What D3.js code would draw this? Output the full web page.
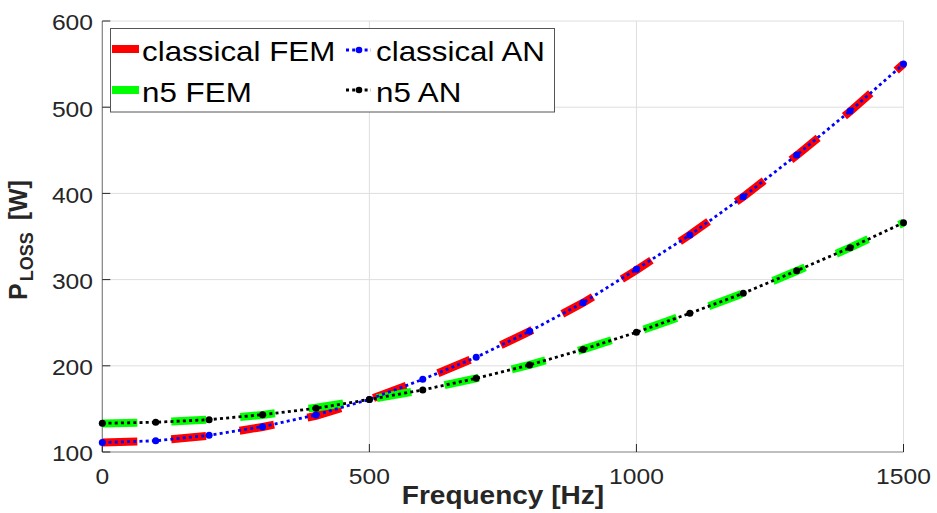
<!DOCTYPE html>
<html><head><meta charset="utf-8">
<script src="https://cdn.jsdelivr.net/npm/d3@7"></script>
<style>body{margin:0;background:#fff}svg{display:block}</style>
</head><body>
<svg id="c" width="937" height="513"></svg>
<script>
const freq = [0,100,200,300,400,500,600,700,800,900,1000,1100,1200,1300,1400,1500];
const classicalFEM = [111,113,119,129,142,161,184,210,240,273,311,352,396,444,495,550];
const n5FEM        = [133,134.5,137.5,143,151.5,161,172,185.5,201,219,239,261,284,310,337,366];
const classicalAN  = [111,113,119.4,129.4,143,161,184.3,209.9,240,273.2,312,351.7,396.2,444.5,495.6,550];
const n5AN         = [133.3,134.5,137.5,143.3,150.7,161,172,185.5,201,219,238.9,260.9,284.1,310.3,337,366];
const xTicks = [0,500,1000,1500];
const yTicks = [100,200,300,400,500,600];
const legendLabels = ["classical FEM","n5 FEM","classical AN","n5 AN"];

const SX = 1.12;
const FONT = "'Liberation Sans', Arial, Helvetica, sans-serif";
const svg = d3.select("#c");
const x = d3.scaleLinear().domain([0,1500]).range([102.3,903.5]);
const y = d3.scaleLinear().domain([100,600]).range([452,21]);

// grid
const g = svg.append("g");
g.selectAll("line.gx").data(xTicks.slice(1)).join("line")
  .attr("x1",d=>x(d)).attr("x2",d=>x(d)).attr("y1",y(100)).attr("y2",y(600))
  .attr("stroke","#dedede").attr("stroke-width",1);
g.selectAll("line.gy").data(yTicks.slice(1)).join("line")
  .attr("y1",d=>y(d)).attr("y2",d=>y(d)).attr("x1",x(0)).attr("x2",x(1500))
  .attr("stroke","#dedede").attr("stroke-width",1);

// axes lines
svg.append("line").attr("x1",x(0)).attr("x2",x(0)).attr("y1",y(100)).attr("y2",y(600)).attr("stroke","#808080").attr("stroke-width",1.2);
svg.append("line").attr("x1",x(0)).attr("x2",x(1500)).attr("y1",y(100)).attr("y2",y(100)).attr("stroke","#808080").attr("stroke-width",1.2);
// ticks (inward)
svg.selectAll("line.tx").data(xTicks).join("line")
  .attr("x1",d=>x(d)).attr("x2",d=>x(d)).attr("y1",y(100)).attr("y2",y(100)-8)
  .attr("stroke","#262626").attr("stroke-width",1);
svg.selectAll("line.ty").data(yTicks).join("line")
  .attr("y1",d=>y(d)).attr("y2",d=>y(d)).attr("x1",x(0)).attr("x2",x(0)+8)
  .attr("stroke","#262626").attr("stroke-width",1);

function stext(px,py,str,opts){
  const gg = svg.append("g").attr("transform",`translate(${px},${py})`);
  const t = gg.append("text").attr("transform",`scale(${opts.sx||SX},1)`)
    .attr("font-family",FONT).attr("font-size",opts.size)
    .attr("font-weight",opts.weight||"normal")
    .attr("fill",opts.fill||"#262626")
    .attr("text-anchor",opts.anchor||"start").text(str);
  return t;
}
yTicks.forEach(v=>stext(93,y(v)+9.4,String(v),{size:22,anchor:"end"}));
xTicks.forEach(v=>stext(x(v),484,String(v),{size:22,anchor:"middle"}));

// axis labels
stext((x(0)+x(1500))/2,504,"Frequency [Hz]",{size:25,weight:"bold",anchor:"middle"});
const yl = svg.append("text")
  .attr("transform",`translate(27,300) rotate(-90)`)
  .attr("font-family",FONT).attr("font-weight","bold").attr("font-size",25)
  .attr("fill","#262626").attr("text-anchor","start");
yl.append("tspan").text("P");
yl.append("tspan").attr("font-size",18).attr("dy",6).attr("dx",2).text("LOSS");
yl.append("tspan").attr("dy",-6).attr("dx",12).text("[W]");

// data lines
const pts = arr => freq.map((f,i)=>[x(f),y(arr[i])]);
const line = d3.line();
function fem(arr,color){
  svg.append("path").attr("d",line(pts(arr))).attr("fill","none")
    .attr("stroke",color).attr("stroke-width",8).attr("stroke-dasharray","35,34")
    .attr("stroke-linecap","butt");
}
function an(arr,color){
  svg.append("path").attr("d",line(pts(arr))).attr("fill","none")
    .attr("stroke",color).attr("stroke-width",2.8).attr("stroke-dasharray","3,3.2");
  svg.append("g").selectAll("circle").data(pts(arr)).join("circle")
    .attr("cx",d=>d[0]).attr("cy",d=>d[1]).attr("r",3.5).attr("fill",color);
}
fem(classicalFEM,"#ff0000");
fem(n5FEM,"#00ff00");
an(classicalAN,"#0000ff");
an(n5AN,"#000000");

// legend
svg.append("rect").attr("x",110.5).attr("y",28.5).attr("width",444).attr("height",83.5)
  .attr("fill","#fff").attr("stroke","#555").attr("stroke-width",1);
const leg = [
  {lab:legendLabels[0],c:"#ff0000",t:"fem",lx:112,ly:49,tx:142,ty:61},
  {lab:legendLabels[1],c:"#00ff00",t:"fem",lx:112,ly:90,tx:142,ty:101.5},
  {lab:legendLabels[2],c:"#0000ff",t:"an",lx:346,ly:50,tx:376,ty:61},
  {lab:legendLabels[3],c:"#000000",t:"an",lx:346,ly:90,tx:376,ty:101.5}
];
leg.forEach(L=>{
  if(L.t==="fem"){
    svg.append("line").attr("x1",L.lx).attr("x2",L.lx+27).attr("y1",L.ly).attr("y2",L.ly)
      .attr("stroke",L.c).attr("stroke-width",8);
  } else {
    svg.append("line").attr("x1",L.lx).attr("x2",L.lx+25).attr("y1",L.ly).attr("y2",L.ly)
      .attr("stroke",L.c).attr("stroke-width",2.8).attr("stroke-dasharray","3,3.2");
    svg.append("circle").attr("cx",L.lx+13).attr("cy",L.ly).attr("r",3.3).attr("fill",L.c);
  }
  stext(L.tx,L.ty,L.lab,{size:28,fill:"#000"});
});
</script>
</body></html>
